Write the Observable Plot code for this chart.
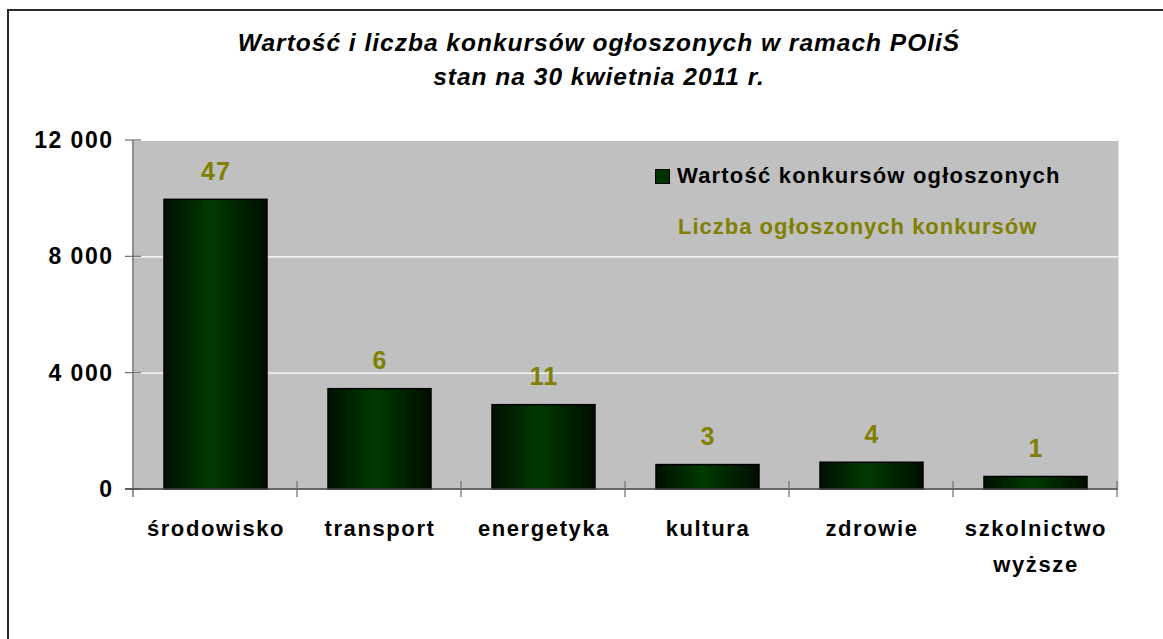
<!DOCTYPE html>
<html>
<head>
<meta charset="utf-8">
<script src="https://cdn.jsdelivr.net/npm/d3@7"></script>
<script src="https://cdn.jsdelivr.net/npm/@observablehq/plot@0.6"></script>
<style>
  html, body { margin: 0; padding: 0; background: #fff; }
  body { width: 1163px; height: 639px; position: relative; overflow: hidden; font-family: "Liberation Sans", Arial, sans-serif; }
  #frame { position: absolute; left: 7px; top: 9px; width: 1300px; height: 800px; border: 2px solid #2a2a2a; box-sizing: border-box; }
  #chart { position: absolute; left: 0; top: 0; }
  .title { position: absolute; left: 0; width: 1198px; text-align: center; font-weight: bold; font-style: italic; font-size: 24.5px; letter-spacing: 1px; color: #000; white-space: nowrap; }
  .legend { position: absolute; font-weight: bold; font-size: 22px; letter-spacing: 1.2px; white-space: nowrap; }
  .swatch { position: absolute; left: 655px; top: 169px; width: 15px; height: 15px; background: #003300; border: 1.5px solid #000; box-sizing: border-box; }
</style>
</head>
<body>
<div id="frame"></div>
<div id="chart"></div>
<div class="title" style="top:29px">Wartość i liczba konkursów ogłoszonych w ramach POIiŚ</div>
<div class="title" style="top:63px">stan na 30 kwietnia 2011 r.</div>
<div class="swatch"></div>
<div class="legend" style="left:677px; top:163px; color:#000">Wartość konkursów ogłoszonych</div>
<div class="legend" style="left:678px; top:214px; color:#808000; letter-spacing:1px">Liczba ogłoszonych konkursów</div>
<script>
const categories = ["środowisko", "transport", "energetyka", "kultura", "zdrowie", "szkolnictwo wyższe"];
const values = [9960, 3450, 2900, 840, 920, 430];
const counts = [47, 6, 11, 3, 4, 1];
const yTicks = [0, 4000, 8000, 12000];

const data = categories.map((c, i) => ({cat: c, value: values[i], count: counts[i]}));

function axesMark(index, scales, vals, dims) {
  const g = d3.create("svg:g");
  const L = dims.marginLeft, R = dims.width - dims.marginRight;
  const T = dims.marginTop, B = dims.height - dims.marginBottom;
  const col = "#6e6e6e";
  g.append("line").attr("x1", L).attr("x2", L).attr("y1", T).attr("y2", B + 8)
    .attr("stroke", col).attr("stroke-width", 1.5);
  for (const t of yTicks) {
    const y = scales.y(t);
    g.append("line").attr("x1", L - 8).attr("x2", L + 8).attr("y1", y).attr("y2", y)
      .attr("stroke", col).attr("stroke-width", 1.2);
  }
  g.append("line").attr("x1", L - 8).attr("x2", R).attr("y1", B).attr("y2", B)
    .attr("stroke", "#444").attr("stroke-width", 1.5);
  const step = scales.x(categories[1]) - scales.x(categories[0]);
  for (let i = 1; i <= categories.length; i++) {
    const x = L + i * step;
    g.append("line").attr("x1", x).attr("x2", x).attr("y1", B - 8).attr("y2", B + 8)
      .attr("stroke", col).attr("stroke-width", 1.2);
  }
  return g.node();
}

const chart = Plot.plot({
  width: 1163,
  height: 639,
  marginLeft: 133,
  marginRight: 45,
  marginTop: 140,
  marginBottom: 150,
  style: {background: "transparent", fontFamily: "'Liberation Sans', Arial, sans-serif"},
  x: {domain: categories, paddingInner: 0.375, paddingOuter: 0.1875, label: null},
  y: {domain: [0, 12000], label: null},
  marks: [
    Plot.frame({fill: "#c0c0c0", stroke: null}),
    Plot.ruleY([4000, 8000, 12000], {stroke: "#ffffff", strokeWidth: 1.2}),
    Plot.barY(data, {x: "cat", y: "value", fill: "url(#barGrad)", stroke: "#000", strokeWidth: 1.5}),
    Plot.text(data, {x: "cat", y: "value", text: d => String(d.count), dy: -28, fill: "#808000",
      fontSize: 25, fontWeight: "bold", lineAnchor: "middle", className: "num"}),
    axesMark,
    Plot.axisY({ticks: yTicks, tickSize: 0, tickPadding: 20,
      tickFormat: d => d3.format(",")(d).replace(/,/g, " "),
      fontSize: 23, fontWeight: "bold", fill: "#000", label: null, className: "yax"}),
    Plot.axisX({tickSize: 0, tickPadding: 22, fontSize: 22, fontWeight: "bold", fill: "#000",
      lineHeight: 1.6, tickFormat: d => d.replace(" ", "\n"), label: null, className: "xax"})
  ]
});

const svg = d3.select(chart);
const defs = svg.insert("defs", ":first-child");
const grad = defs.append("linearGradient").attr("id", "barGrad")
  .attr("x1", "0%").attr("x2", "100%").attr("y1", "0%").attr("y2", "0%");
grad.append("stop").attr("offset", "0%").attr("stop-color", "#001000");
grad.append("stop").attr("offset", "45%").attr("stop-color", "#003a00");
grad.append("stop").attr("offset", "100%").attr("stop-color", "#000e00");
svg.selectAll(".yax text").style("letter-spacing", "1.5px");
svg.selectAll(".xax text").style("letter-spacing", "1.6px");
svg.selectAll(".num text").style("letter-spacing", "1px");

document.getElementById("chart").appendChild(chart);
</script>
</body>
</html>
